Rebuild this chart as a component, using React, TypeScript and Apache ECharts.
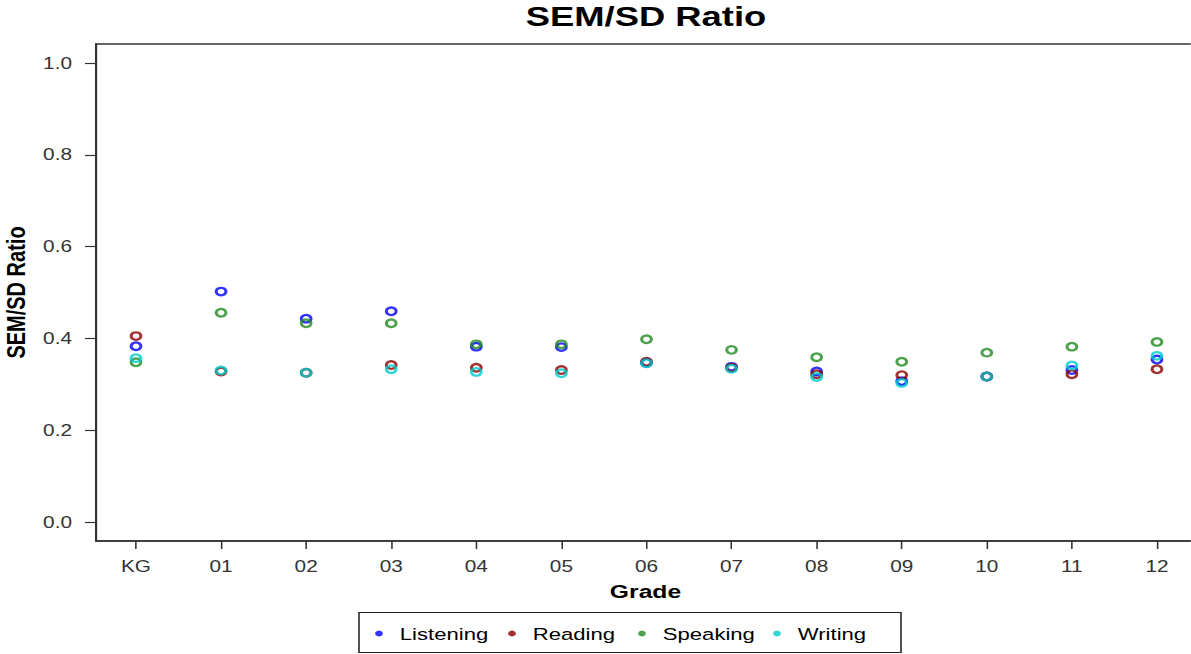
import React, { useEffect, useRef } from 'react';
import * as echarts from 'echarts';

const grades = ['KG', '01', '02', '03', '04', '05', '06', '07', '08', '09', '10', '11', '12'];
const listening = [0.383, 0.502, 0.443, 0.459, 0.382, 0.381, 0.347, 0.338, 0.328, 0.307, 0.317, 0.331, 0.354];
const reading = [0.405, 0.328, 0.325, 0.342, 0.336, 0.331, 0.349, 0.336, 0.322, 0.320, 0.317, 0.322, 0.333];
const speaking = [0.348, 0.456, 0.433, 0.433, 0.387, 0.387, 0.398, 0.375, 0.359, 0.349, 0.369, 0.382, 0.392];
const writing = [0.357, 0.330, 0.325, 0.333, 0.327, 0.324, 0.346, 0.334, 0.316, 0.303, 0.317, 0.341, 0.362];
const yTicks = [0, 0.2, 0.4, 0.6, 0.8, 1.0];

const seriesNames = ['Listening', 'Reading', 'Speaking', 'Writing'];
const seriesData = [listening, reading, speaking, writing];
const seriesColors = ['#0000ff', '#8b0000', '#228b22', '#00cccc'];

const W = 1191;
const H = 654;
const SX = 1.3;
const FONT = 'Liberation Sans, Arial, Helvetica, sans-serif';

export default function App() {
  const ref = useRef<HTMLDivElement>(null);

  useEffect(() => {
    if (!ref.current) return;
    const chart = echarts.init(ref.current, null, { renderer: 'svg' });
    const px = (x: number) => x / SX;
    const tickIdx = grades.map((_, i) => i);
    const legendCenters = [379, 512, 642, 777];

    const option: any = {
      animation: false,
      backgroundColor: '#ffffff',
      title: {
        text: 'SEM/SD Ratio',
        left: px(646),
        top: 3,
        textAlign: 'center',
        padding: 0,
        textStyle: { fontSize: 28, fontWeight: 'bold', color: '#000', fontFamily: FONT },
      },
      grid: {
        left: px(96),
        top: 44,
        width: px(1099),
        height: 497,
        show: true,
        borderColor: '#333',
        borderWidth: 1.5,
        backgroundColor: 'transparent',
        containLabel: false,
        outerBoundsMode: 'none',
      },
      xAxis: {
        type: 'value',
        min: -0.47,
        max: 12.447,
        name: 'Grade',
        nameLocation: 'middle',
        nameGap: 41,
        nameTextStyle: { fontSize: 19, fontWeight: 'bold', color: '#000', fontFamily: FONT },
        axisLine: { show: true, onZero: false, lineStyle: { color: '#333', width: 1.5 } },
        axisTick: { show: true, inside: false, length: 8, customValues: tickIdx, lineStyle: { color: '#333', width: 1.2 } },
        axisLabel: {
          show: true,
          customValues: tickIdx,
          margin: 17,
          fontSize: 16,
          color: '#333',
          fontFamily: FONT,
          formatter: (v: number) => grades[Math.round(v)] ?? '',
        },
        splitLine: { show: false },
      },
      yAxis: {
        type: 'value',
        min: -0.0414,
        max: 1.0414,
        name: 'SEM/SD Ratio',
        nameLocation: 'middle',
        nameGap: 43,
        nameRotate: 90,
        nameTextStyle: { fontSize: 20, fontWeight: 'bold', color: '#000', fontFamily: FONT },
        axisLine: { show: true, onZero: false, lineStyle: { color: '#333', width: 1.5 } },
        axisTick: { show: true, inside: false, length: px(11), customValues: yTicks, lineStyle: { color: '#333', width: 1.2 } },
        axisLabel: {
          show: true,
          customValues: yTicks,
          margin: px(24),
          fontSize: 16,
          color: '#333',
          fontFamily: FONT,
          formatter: (v: number) => v.toFixed(1),
        },
        splitLine: { show: false },
      },
      legend: seriesNames.map((n, i) => ({
        data: [n],
        left: px(legendCenters[i]) - 3,
        top: 625,
        padding: 0,
        itemWidth: 22,
        itemHeight: 6,
        icon: 'circle',
        selectedMode: false,
        itemStyle: { color: seriesColors[i], borderWidth: 0 },
        textStyle: { fontSize: 17, color: '#000', fontFamily: FONT },
      })),
      graphic: [
        {
          type: 'rect',
          silent: true,
          shape: { x: px(359), y: 612.5, width: px(542), height: 40 },
          style: { fill: 'none', stroke: '#222', lineWidth: 1.2 },
        },
      ],
      series: seriesNames.map((n, i) => ({
        name: n,
        type: 'scatter',
        symbol: 'circle',
        symbolSize: 7.5,
        data: seriesData[i].map((v, j) => [j, v]),
        itemStyle: { color: 'transparent', borderColor: seriesColors[i], borderWidth: 2.3 },
        emphasis: { disabled: true },
      })),
    };

    chart.setOption(option);
    return () => chart.dispose();
  }, []);

  return (
    <div
      ref={ref}
      style={{
        position: 'fixed',
        left: 0,
        top: 0,
        width: W / SX,
        height: H,
        transform: `scaleX(${SX})`,
        transformOrigin: '0 0',
        background: '#fff',
      }}
    />
  );
}
